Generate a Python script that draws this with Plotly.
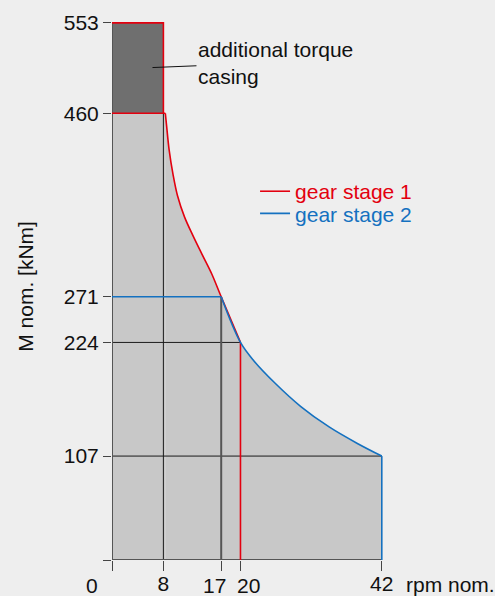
import plotly.graph_objects as go

# ---- data ----
rpm_ticks = [0, 8, 17, 20, 42]
torque_ticks = [0, 107, 224, 271, 460, 553]

casing_torque = 553          # with additional torque casing
casing_rpm = 8
stage1_max_torque = 460
stage1_curve_rpm = [8.3, 8.5, 8.9, 9.5, 10.2, 11.3, 12.6, 14.0, 15.5, 17, 20]
stage1_curve_torque = [460, 447, 422, 397, 375, 353, 334, 315, 295, 271, 224]

stage2_max_torque = 271
stage2_curve_rpm = [17, 20, 22.1, 25.4, 29.4, 33.8, 38.2, 42]
stage2_curve_torque = [271, 224, 205, 182, 158, 137, 120, 107]

RED = "#e3000f"
BLUE = "#1471c0"
BG = "#eeeeee"
LIGHT = "#c8c8c8"
DARK = "#6f6f6f"
FONT = "Liberation Sans, Arial, sans-serif"
FS = 21

fig = go.Figure()
nolegend = dict(showlegend=False, hoverinfo="skip")

# envelope (light grey area) built from fill-only traces
fig.add_trace(go.Scatter(x=[0, stage1_curve_rpm[0]], y=[stage1_max_torque, stage1_max_torque],
                         fill="tozeroy", fillcolor=LIGHT, mode="lines", line=dict(width=0), **nolegend))
fig.add_trace(go.Scatter(x=stage1_curve_rpm, y=stage1_curve_torque, fill="tozeroy", fillcolor=LIGHT,
                         mode="lines", line=dict(width=0, shape="spline"), **nolegend))
fig.add_trace(go.Scatter(x=stage2_curve_rpm, y=stage2_curve_torque, fill="tozeroy", fillcolor=LIGHT,
                         mode="lines", line=dict(width=0, shape="spline"), **nolegend))
# additional torque casing (dark area)
fig.add_trace(go.Scatter(x=[0, casing_rpm, casing_rpm, 0, 0],
                         y=[stage1_max_torque, stage1_max_torque, casing_torque, casing_torque, stage1_max_torque],
                         fill="toself", fillcolor=DARK, line=dict(width=0), mode="lines", **nolegend))

# thin black reference lines
ref_x = [0, stage1_curve_rpm[-1], None, 0, stage2_curve_rpm[-1], None, casing_rpm, casing_rpm]
ref_y = [stage1_curve_torque[-1], stage1_curve_torque[-1], None,
         stage2_curve_torque[-1], stage2_curve_torque[-1], None, 0, stage1_max_torque]
fig.add_trace(go.Scatter(x=ref_x, y=ref_y, mode="lines", line=dict(color="#1a1a1a", width=1), **nolegend))
# grey vertical at end of stage 2 constant torque
fig.add_trace(go.Scatter(x=[stage2_curve_rpm[0], stage2_curve_rpm[0]], y=[0, stage2_max_torque],
                         mode="lines", line=dict(color="#555555", width=2), **nolegend))
# left edge and bottom line
fig.add_trace(go.Scatter(x=[0, 0, None, 0, stage2_curve_rpm[-1]],
                         y=[0, casing_torque, None, 0, 0],
                         mode="lines", line=dict(color="#555555", width=2), **nolegend))

# gear stage 1: straight parts + smooth curve
s1_x = [0, casing_rpm, casing_rpm, None, 0, stage1_curve_rpm[0], None,
        stage1_curve_rpm[-1], stage1_curve_rpm[-1]]
s1_y = [casing_torque, casing_torque, stage1_max_torque, None, stage1_max_torque, stage1_max_torque, None,
        stage1_curve_torque[-1], 0]
fig.add_trace(go.Scatter(x=s1_x, y=s1_y, mode="lines", line=dict(color=RED, width=1.6),
                         name=f"<span style='color:{RED}'>gear stage 1</span>",
                         legend="legend", hoverinfo="skip"))
fig.add_trace(go.Scatter(x=stage1_curve_rpm, y=stage1_curve_torque, mode="lines",
                         line=dict(color=RED, width=1.6, shape="spline"), **nolegend))
# gear stage 2: straight parts + smooth curve
s2_x = [0, stage2_curve_rpm[0], None, stage2_curve_rpm[-1], stage2_curve_rpm[-1]]
s2_y = [stage2_max_torque, stage2_max_torque, None, stage2_curve_torque[-1], 0]
fig.add_trace(go.Scatter(x=s2_x, y=s2_y, mode="lines", line=dict(color=BLUE, width=1.6),
                         name=f"<span style='color:{BLUE}'>gear stage 2</span>",
                         legend="legend2", hoverinfo="skip"))
fig.add_trace(go.Scatter(x=stage2_curve_rpm, y=stage2_curve_torque, mode="lines",
                         line=dict(color=BLUE, width=1.6, shape="spline"), **nolegend))

tick_font = dict(family=FONT, size=FS, color="#111111")

x_labels = ["" if v in (0, 17, 20) else str(v) for v in rpm_ticks]

fig.update_layout(
    width=495, height=596,
    margin=dict(l=112, r=110, t=19, b=36),
    paper_bgcolor=BG, plot_bgcolor=BG,
    font=dict(family=FONT, size=FS, color="#111111"),
    showlegend=True,
    legend=dict(x=0.524, y=0.681, xanchor="left", yanchor="middle", bgcolor="rgba(0,0,0,0)",
                font=dict(family=FONT, size=FS)),
    legend2=dict(x=0.524, y=0.640, xanchor="left", yanchor="middle", bgcolor="rgba(0,0,0,0)",
                 font=dict(family=FONT, size=FS)),
    xaxis=dict(range=[0, 42.5], tickmode="array", tickvals=rpm_ticks, ticktext=x_labels,
               ticks="outside", ticklen=10, tickcolor="#444444", tickwidth=1,
               showgrid=False, zeroline=False, showline=False, tickangle=0,
               ticklabelstandoff=-5,
               tickfont=tick_font, fixedrange=True, automargin=False),
    yaxis=dict(range=[0, 557], tickmode="array", tickvals=torque_ticks,
               ticktext=[""] + [str(v) for v in torque_ticks[1:]],
               ticks="outside", ticklen=8, tickcolor="#444444", tickwidth=1,
               showgrid=False, zeroline=False, showline=False,
               tickfont=tick_font, fixedrange=True, automargin=False),
    annotations=[
        dict(x=0, y=0, xref="x", yref="y", text="0", showarrow=False,
             xshift=-20, yshift=-25, font=tick_font),
        dict(x=17, y=0, xref="x", yref="y", text="17", showarrow=False,
             xshift=-7, yshift=-25, font=tick_font),
        dict(x=20, y=0, xref="x", yref="y", text="20", showarrow=False,
             xshift=8, yshift=-25, font=tick_font),
        dict(x=1.07, y=-0.046, xref="paper", yref="paper", text="rpm nom.", showarrow=False,
             xanchor="left", yanchor="middle", font=tick_font),
        dict(x=-0.315, y=0.505, xref="paper", yref="paper", text="M nom. [kNm]", showarrow=False,
             textangle=-90, xanchor="center", yanchor="middle", font=tick_font),
        dict(x=6.3, y=507, xref="x", yref="y", text="additional torque<br>casing",
             showarrow=True, arrowhead=0, arrowwidth=1, arrowcolor="#111111",
             ax=123, ay=-5, align="left", font=tick_font),
    ],
)

fig.write_html(
    "out.html",
    config={"displayModeBar": False},
    post_script="document.body.style.margin='0';document.body.style.background='#eeeeee';",
)
